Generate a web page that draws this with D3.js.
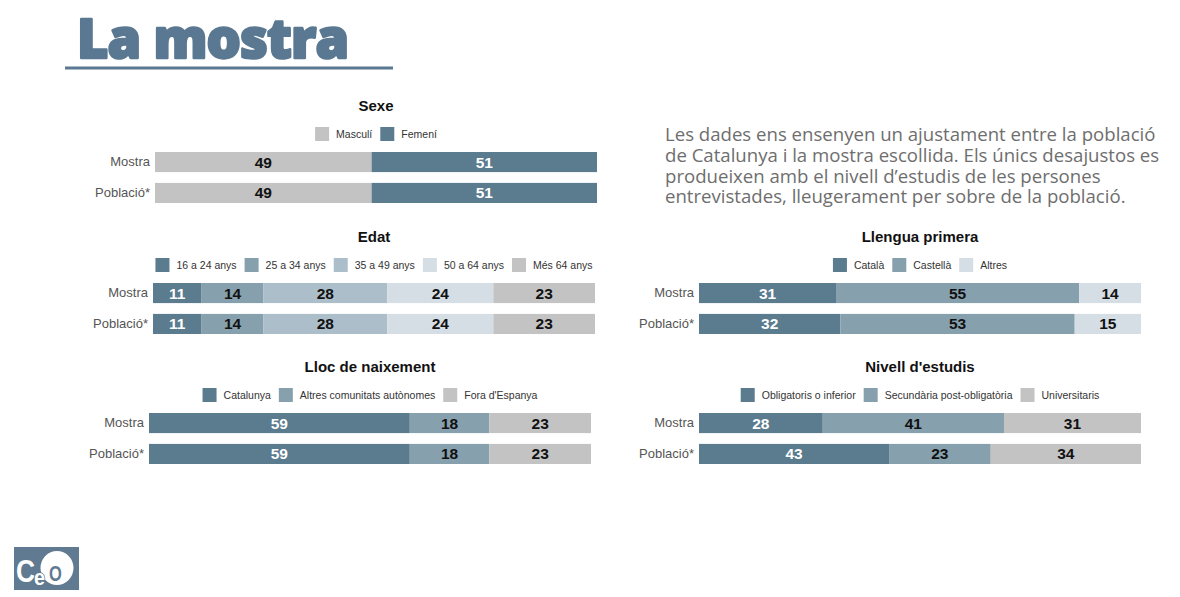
<!DOCTYPE html>
<html>
<head>
<meta charset="utf-8">
<script src="https://cdn.jsdelivr.net/npm/d3@7"></script>
<style>
  body { margin: 0; background: #fff; }
  svg { display: block; }
</style>
</head>
<body>
<svg id="chart" width="1180" height="597"></svg>
<script>
// data
const rows = ["Mostra", "Població*"];

const sexeCats = ["Masculí", "Femení"];
const sexeVals = [[49, 51], [49, 51]];

const edatCats = ["16 a 24 anys", "25 a 34 anys", "35 a 49 anys", "50 a 64 anys", "Més 64 anys"];
const edatVals = [[11, 14, 28, 24, 23], [11, 14, 28, 24, 23]];

const llocCats = ["Catalunya", "Altres comunitats autònomes", "Fora d'Espanya"];
const llocVals = [[59, 18, 23], [59, 18, 23]];

const llenguaCats = ["Català", "Castellà", "Altres"];
const llenguaVals = [[31, 55, 14], [32, 53, 15]];

const estudisCats = ["Obligatoris o inferior", "Secundària post-obligatòria", "Universitaris"];
const estudisVals = [[28, 41, 31], [43, 23, 34]];

const introLines = [
  "Les dades ens ensenyen un ajustament entre la població",
  "de Catalunya i la mostra escollida. Els únics desajustos es",
  "produeixen amb el nivell d’estudis de les persones",
  "entrevistades, lleugerament per sobre de la població."
];

const DARK = "#5b7b8e", MID = "#86a0ae", LIGHT = "#adbecb", PALE = "#d5dee4", GREY = "#c3c3c3";
const BLUE = "#5a7891";

const svg = d3.select("#chart");

// header
svg.append("text")
  .attr("x", 77).attr("y", 58)
  .style("font-family", "'Open Sans', sans-serif")
  .style("font-weight", 800)
  .style("font-size", "54px")
  .style("letter-spacing", "-0.9px")
  .attr("fill", BLUE)
  .attr("stroke", BLUE).attr("stroke-width", 2.4).attr("stroke-linejoin", "round")
  .text("La mostra");
svg.append("rect")
  .attr("x", 65).attr("y", 66.5).attr("width", 328).attr("height", 3)
  .attr("fill", BLUE);

// intro paragraph, one text block with a line per tspan
svg.append("text")
  .attr("y", 141)
  .style("font-family", "'Open Sans', sans-serif")
  .style("font-size", "18.6px")
  .attr("fill", "#6e6e6e")
  .selectAll("tspan")
  .data(introLines)
  .join("tspan")
  .attr("x", 665)
  .attr("dy", (d, i) => i ? 20.8 : 0)
  .text(d => d);

function drawPanel(cfg) {
  const g = svg.append("g").style("font-family", "'Liberation Sans', Arial, sans-serif");
  const x = d3.scaleLinear().domain([0, 100]).range([cfg.x0, cfg.x1]);
  const y = d3.scaleBand().domain(rows).range([cfg.top, cfg.top + 51]).paddingInner(0.35);
  const color = d3.scaleOrdinal().domain(cfg.cats).range(cfg.colors);
  const mid = (cfg.x0 + cfg.x1) / 2;

  g.append("text")
    .attr("x", mid).attr("y", cfg.top - 41)
    .attr("text-anchor", "middle")
    .style("font-weight", "bold").style("font-size", "15px")
    .attr("fill", "#111")
    .text(cfg.title);

  // legend, centred over the bars
  const leg = g.append("g");
  const items = leg.selectAll("g").data(cfg.cats).join("g");
  items.append("rect")
    .attr("width", 14).attr("height", 14)
    .attr("y", cfg.top - 25)
    .attr("fill", d => color(d));
  items.append("text")
    .attr("x", 21).attr("y", cfg.top - 14.5)
    .style("font-size", "10.5px")
    .attr("fill", "#333")
    .text(d => d);
  let off = 0;
  items.each(function () {
    const w = d3.select(this).select("text").node().getComputedTextLength();
    d3.select(this).attr("transform", `translate(${off},0)`);
    off += 21 + w + 8;
  });
  const total = off - 8;
  leg.attr("transform", `translate(${mid - total / 2},0)`);

  const table = cfg.vals.map((v, i) => {
    const o = { row: rows[i] };
    cfg.cats.forEach((c, j) => { o[c] = v[j]; });
    return o;
  });
  const series = d3.stack().keys(cfg.cats)(table);

  const seg = g.selectAll("g.series").data(series).join("g").attr("class", "series")
    .attr("fill", d => color(d.key));
  seg.selectAll("rect")
    .data(d => d)
    .join("rect")
    .attr("x", d => x(d[0]))
    .attr("width", d => x(d[1]) - x(d[0]))
    .attr("y", d => y(d.data.row))
    .attr("height", y.bandwidth());
  seg.selectAll("text")
    .data(d => d.map(p => ({ p, key: d.key })))
    .join("text")
    .attr("x", d => (x(d.p[0]) + x(d.p[1])) / 2)
    .attr("y", d => y(d.p.data.row) + y.bandwidth() / 2 + 5.5)
    .attr("text-anchor", "middle")
    .style("font-weight", "bold").style("font-size", "15.5px")
    .attr("fill", d => color(d.key) === DARK ? "#fff" : "#111")
    .text(d => d.p[1] - d.p[0]);

  const ax = g.append("g")
    .attr("transform", `translate(${cfg.x0 - 1},0)`)
    .call(d3.axisLeft(y).tickSize(0).tickPadding(4));
  ax.select(".domain").remove();
  ax.selectAll("text")
    .style("font-family", "'Liberation Sans', Arial, sans-serif")
    .style("font-size", "13px")
    .attr("fill", "#555");
}

drawPanel({ title: "Sexe", cats: sexeCats, vals: sexeVals, colors: [GREY, DARK], x0: 155, x1: 597, top: 152 });
drawPanel({ title: "Edat", cats: edatCats, vals: edatVals, colors: [DARK, MID, LIGHT, PALE, GREY], x0: 153, x1: 595, top: 283 });
drawPanel({ title: "Lloc de naixement", cats: llocCats, vals: llocVals, colors: [DARK, MID, GREY], x0: 149, x1: 591, top: 413 });
drawPanel({ title: "Llengua primera", cats: llenguaCats, vals: llenguaVals, colors: [DARK, MID, PALE], x0: 699, x1: 1141, top: 283 });
drawPanel({ title: "Nivell d'estudis", cats: estudisCats, vals: estudisVals, colors: [DARK, MID, GREY], x0: 699, x1: 1141, top: 413 });

// CEO logo
const LOGO = "#5f7a91";
const logo = svg.append("g").style("font-family", "'Liberation Sans', Arial, sans-serif").style("font-weight", "bold");
logo.append("rect").attr("x", 14).attr("y", 547).attr("width", 65).attr("height", 43).attr("fill", LOGO);
logo.append("ellipse").attr("cx", 57).attr("cy", 568).attr("rx", 16.5).attr("ry", 17).attr("fill", "#fff");
logo.append("text").attr("transform", "translate(16,582) scale(0.85,1)")
  .style("font-size", "31px").attr("fill", "#fff").text("C");
logo.append("text").attr("transform", "translate(49,581) scale(0.75,1)")
  .style("font-size", "22px").attr("fill", LOGO).text("O");
logo.append("text").attr("transform", "translate(34,585) scale(0.9,1)")
  .style("font-size", "22px").attr("fill", "#fff")
  .attr("stroke", LOGO).attr("stroke-width", 1.5).attr("paint-order", "stroke")
  .text("e");
</script>
</body>
</html>
